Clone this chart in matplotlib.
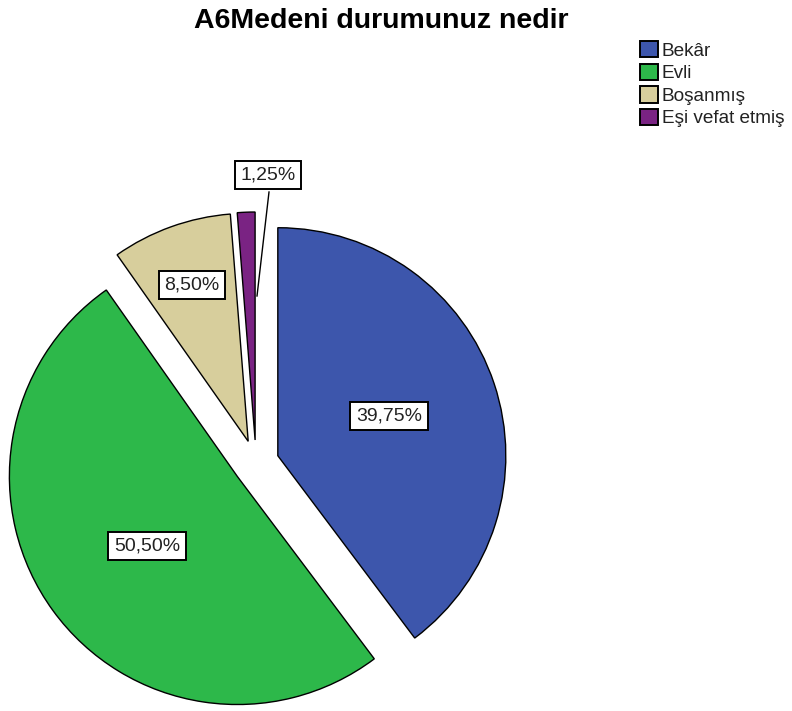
import matplotlib
matplotlib.use("Agg")
import matplotlib.pyplot as plt
from matplotlib.patches import Patch

plt.rcParams['font.family'] = ['Liberation Sans', 'DejaVu Sans']

title = "A6Medeni durumunuz nedir"
categories = ["Bekâr", "Evli", "Boşanmış", "Eşi vefat etmiş"]
values = [39.75, 50.50, 8.50, 1.25]
value_labels = ["39,75%", "50,50%", "8,50%", "1,25%"]
colors = ["#3D56AC", "#2DB84A", "#D7CE9C", "#7A2383"]

W, H = 792, 711
fig = plt.figure(figsize=(W / 100, H / 100), dpi=100)
ax = fig.add_axes([0, 0, 1, 1])

cx, cy, R = 256, H - 463, 228
wedges, _ = ax.pie(values, explode=[23] * 4, startangle=90, counterclock=False,
                   colors=colors, center=(cx, cy), radius=R,
                   wedgeprops=dict(edgecolor='black', linewidth=1.0),
                   frame=True)
ax.set_xlim(0, W)
ax.set_ylim(0, H)
ax.set_aspect('equal')
ax.axis('off')

bbox = dict(boxstyle='square,pad=0.3', facecolor='white', edgecolor='black', linewidth=1.4)
label_pos = [(389, 416), (147, 546), (192, 285), (268, 175)]
for (x, y), t in zip(label_pos, value_labels):
    ax.text(x, H - y, t, ha='center', va='center', fontsize=14, bbox=bbox, zorder=5,
            color='#222222')
ax.plot([269, 257], [H - 192, H - 296], color='black', linewidth=1.0, zorder=4)

fig.text(381 / W, 1 - 21 / H, title, ha='center', va='center', fontsize=20.5,
         fontweight='bold')

handles = [Patch(facecolor=c, edgecolor='black', linewidth=1.4) for c in colors]
leg = fig.legend(handles, categories, loc='upper left', bbox_to_anchor=(640 / W, 1 - 41 / H),
                 frameon=False, fontsize=13.7, handlelength=0.95, handleheight=0.95,
                 handletextpad=0.2, labelspacing=0.2, borderaxespad=0, borderpad=0)
for t in leg.get_texts():
    t.set_color('#222222')

fig.savefig("out.png", dpi=100)
